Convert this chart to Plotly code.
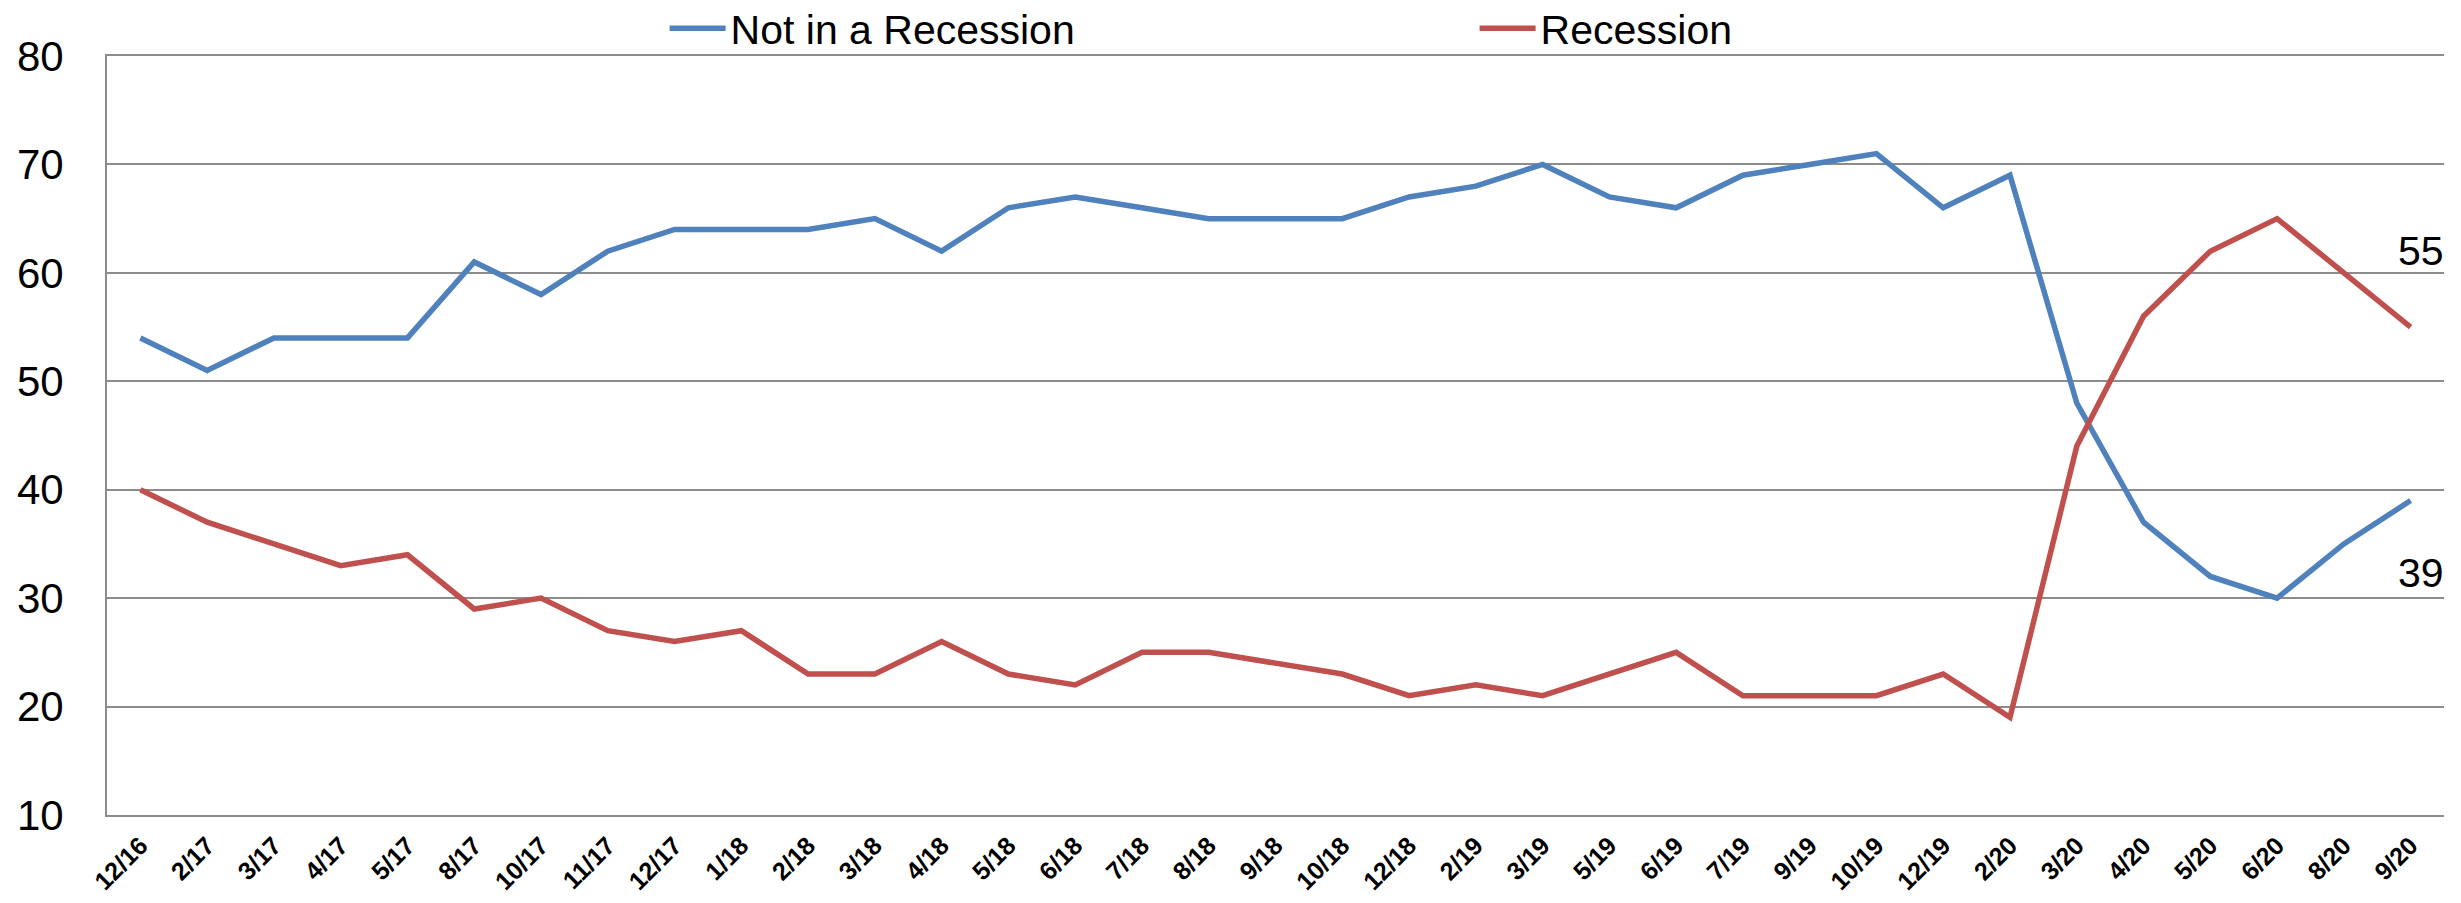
import plotly.graph_objects as go

categories = ["12/16", "2/17", "3/17", "4/17", "5/17", "8/17", "10/17", "11/17", "12/17",
              "1/18", "2/18", "3/18", "4/18", "5/18", "6/18", "7/18", "8/18", "9/18", "10/18",
              "12/18", "2/19", "3/19", "5/19", "6/19", "7/19", "9/19", "10/19", "12/19",
              "2/20", "3/20", "4/20", "5/20", "6/20", "8/20", "9/20"]
not_recession = [54, 51, 54, 54, 54, 61, 58, 62, 64, 64, 64, 65, 62, 66, 67, 66, 65, 65, 65,
                 67, 68, 70, 67, 66, 69, 70, 71, 66, 69, 48, 37, 32, 30, 35, 39]
recession = [40, 37, 35, 33, 34, 29, 30, 27, 26, 27, 23, 23, 26, 23, 22, 25, 25, 24, 23,
             21, 22, 21, 23, 25, 21, 21, 21, 23, 19, 44, 56, 62, 65, 60, 55]
y_ticks = [10, 20, 30, 40, 50, 60, 70, 80]

BLUE = "#4F81BD"
RED = "#C0504D"
GRID = "#8C8C8C"
FONT = "Liberation Sans"

fig = go.Figure()
fig.add_trace(go.Scatter(x=categories, y=not_recession, mode="lines", name="Not in a Recession",
                         line=dict(color=BLUE, width=5.5)))
fig.add_trace(go.Scatter(x=categories, y=recession, mode="lines", name="Recession",
                         line=dict(color=RED, width=5.5)))

fig.add_annotation(x=categories[-1], y=recession[-1], text=str(recession[-1]), showarrow=False,
                   xshift=10, yshift=76, font=dict(family=FONT, size=41, color="black"))
fig.add_annotation(x=categories[-1], y=not_recession[-1], text=str(not_recession[-1]), showarrow=False,
                   xshift=10, yshift=-72, font=dict(family=FONT, size=41, color="black"))

fig.update_layout(
    width=2461, height=903,
    margin=dict(l=99, r=25, t=48, b=96, autoexpand=False),
    paper_bgcolor="white", plot_bgcolor="white",
    font=dict(family=FONT, color="black"),
    legend=dict(orientation="h", x=0.2386, xanchor="left", y=1.036, yanchor="middle",
                entrywidth=739, entrywidthmode="pixels", itemwidth=56,
                font=dict(family=FONT, size=41), bgcolor="rgba(0,0,0,0)"),
    xaxis=dict(type="category", range=[-0.5, len(categories) - 0.5], showgrid=False,
               showline=True, mirror=True, linecolor=GRID, linewidth=2,
               zeroline=False, tickangle=-45, ticks="", ticklabelstandoff=4,
               tickfont=dict(family=FONT, size=25, color="black", weight="bold")),
    yaxis=dict(range=[10, 80], tickvals=y_ticks, showgrid=True, gridcolor=GRID, gridwidth=2,
               zeroline=False, showline=True, linecolor=GRID, linewidth=2, ticks="",
               ticklabelstandoff=33,
               tickfont=dict(family=FONT, size=42, color="black")),
)

fig.write_html("out.html")
